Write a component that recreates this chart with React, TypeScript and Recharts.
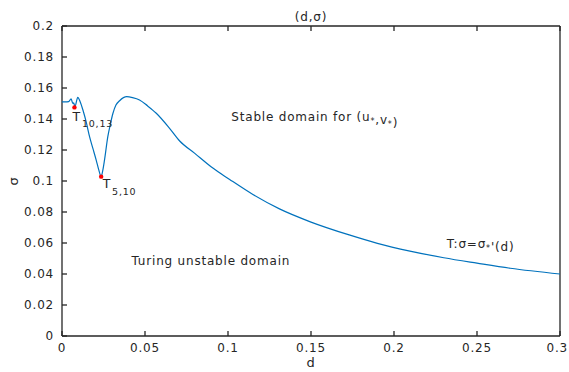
import React from 'react';
import { LineChart, Line, XAxis, YAxis, ReferenceDot, ReferenceLine } from 'recharts';

// curve T: sigma = sigma*'(d)
const dValues = [
  0, 0.002, 0.004, 0.0055, 0.0065, 0.007, 0.0078, 0.0095, 0.011, 0.0126,
  0.0146, 0.0166, 0.0186, 0.0206, 0.0222, 0.0236, 0.0246, 0.0256, 0.0276, 0.0292,
  0.0307, 0.0325, 0.0347, 0.039, 0.0425, 0.0467, 0.0515, 0.0568, 0.0648, 0.0709,
  0.08, 0.09, 0.101, 0.115, 0.131, 0.15, 0.173, 0.19, 0.2096, 0.23,
  0.25, 0.27, 0.3,
];
const sigmaValues = [
  0.151, 0.151, 0.1512, 0.153, 0.15, 0.1505, 0.148, 0.154, 0.151, 0.1458,
  0.138, 0.1286, 0.121, 0.1135, 0.107, 0.1028, 0.107, 0.1135, 0.1286, 0.137,
  0.1437, 0.149, 0.1518, 0.1544, 0.1538, 0.1523, 0.1485, 0.1437, 0.134, 0.1258,
  0.1178, 0.109, 0.101, 0.0913, 0.082, 0.0735, 0.0652, 0.0598, 0.0548, 0.0505,
  0.047, 0.0437, 0.04,
];

// marked Turing points
const pointD = [0.0075, 0.0236];
const pointSigma = [0.1475, 0.1028];
const pointSub = ['10,13', '5,10'];

const xTicks = [0, 0.05, 0.1, 0.15, 0.2, 0.25, 0.3];
const yTicks = [0, 0.02, 0.04, 0.06, 0.08, 0.1, 0.12, 0.14, 0.16, 0.18, 0.2];

const rows = dValues.map((d, i) => ({ d, sigma: sigmaValues[i] }));

const AXIS = '#262626';
const FONT = '"DejaVu Sans", sans-serif';
const txt = { fontFamily: FONT, fontSize: 12, fill: AXIS, letterSpacing: 0.8 };

// ticks point inwards, like the MATLAB figure
const BottomTick = (p: any) => {
  const last = p.payload.value === xTicks[xTicks.length - 1];
  return (
    <g>
      <line x1={p.x} y1={p.y} x2={p.x} y2={p.y - 5} stroke={AXIS} strokeWidth={1.3} />
      <text x={last ? 568 : p.x} y={p.y + 15.5} textAnchor={last ? 'end' : 'middle'} style={txt}>
        {String(p.payload.value)}
      </text>
    </g>
  );
};
const TopTick = (p: any) => <line x1={p.x} y1={p.y} x2={p.x} y2={p.y + 5} stroke={AXIS} strokeWidth={1.3} />;
const LeftTick = (p: any) => (
  <g>
    <line x1={p.x} y1={p.y} x2={p.x + 5} y2={p.y} stroke={AXIS} strokeWidth={1.3} />
    <text x={p.x - 8} y={p.y + 4.3} textAnchor="end" style={txt}>{String(p.payload.value)}</text>
  </g>
);
const RightTick = (p: any) => <line x1={p.x} y1={p.y} x2={p.x - 5} y2={p.y} stroke={AXIS} strokeWidth={1.3} />;

const centre = (vb: any) => ({ cx: vb.x + vb.width / 2, cy: vb.y + vb.height / 2 });

const TLabel = (sub: string, dx: number, dy: number, sdy: number) => (props: any) => {
  const { cx, cy } = centre(props.viewBox);
  return (
    <text x={cx + dx} y={cy + dy} style={{ ...txt, fontSize: 12.5 }}>
      T<tspan dx={1} dy={sdy} style={{ fontSize: 9.5 }}>{sub}</tspan>
    </text>
  );
};

const TextAt = (children: React.ReactNode) => (props: any) => {
  const { cx, cy } = centre(props.viewBox);
  return <text x={cx} y={cy + 4.3} style={txt}>{children}</text>;
};

const Sub = ({ c }: { c: string }) => (
  <>
    <tspan dy={3} style={{ fontSize: 8 }}>{c}</tspan>
    <tspan dy={-3}>{''}</tspan>
  </>
);

const labelOffsets = [
  { dx: -2, dy: 14, sdy: 6 },
  { dx: 1.5, dy: 11.5, sdy: 6.5 },
];

export default function App() {
  return (
    <div style={{ position: 'absolute', left: 0, top: 0, width: 569, height: 372, background: '#fff' }}>
      <LineChart width={569} height={372} data={rows} margin={{ top: 25, right: 8, bottom: 0, left: 0 }}>
        <XAxis
          xAxisId="b" type="number" dataKey="d" domain={[0, 0.3]} ticks={xTicks} interval={0}
          height={36} tickSize={0} tickMargin={0} tickLine={false} tick={<BottomTick />}
          axisLine={false}
          label={{
            position: 'insideBottom',
            content: (p: any) => (
              <text x={p.viewBox.x + p.viewBox.width / 2} y={p.viewBox.y + 31} textAnchor="middle" style={{ ...txt, fontSize: 13 }}>d</text>
            ),
          }}
        />
        <XAxis
          xAxisId="t" orientation="top" type="number" dataKey="d" domain={[0, 0.3]} ticks={xTicks} interval={0}
          height={1} tickSize={0} tickMargin={0} tickLine={false} tick={<TopTick />}
          axisLine={false}
        />
        <YAxis
          yAxisId="l" type="number" domain={[0, 0.2]} ticks={yTicks} interval={0}
          width={62} tickSize={0} tickMargin={0} tickLine={false} tick={<LeftTick />}
          axisLine={false}
          label={{
            position: 'insideLeft',
            content: (p: any) => {
              const y = p.viewBox.y + p.viewBox.height / 2;
              return (
                <text x={18} y={y} textAnchor="middle" transform={`rotate(-90 18 ${y})`} style={{ ...txt, fontSize: 13 }}>σ</text>
              );
            },
          }}
        />
        <YAxis
          yAxisId="r" orientation="right" type="number" domain={[0, 0.2]} ticks={yTicks} interval={0}
          width={1} tickSize={0} tickMargin={0} tickLine={false} tick={<RightTick />}
          axisLine={false}
        />
        {/* box round the plot */}
        <ReferenceLine xAxisId="b" yAxisId="l" x={0} stroke={AXIS} strokeWidth={1.3} ifOverflow="visible" />
        <ReferenceLine xAxisId="b" yAxisId="l" x={0.3} stroke={AXIS} strokeWidth={1.3} ifOverflow="visible" />
        <ReferenceLine xAxisId="b" yAxisId="l" y={0} stroke={AXIS} strokeWidth={1.3} ifOverflow="visible" />
        <ReferenceLine
          xAxisId="b" yAxisId="l" y={0.2} stroke={AXIS} strokeWidth={1.3} ifOverflow="visible"
          label={{
            position: 'top',
            content: (p: any) => (
              <text x={p.viewBox.x + p.viewBox.width / 2} y={p.viewBox.y - 5} textAnchor="middle" style={txt}>(d,σ)</text>
            ),
          }}
        />
        <Line
          xAxisId="b" yAxisId="l" type="monotone" dataKey="sigma" stroke="#0072BD"
          strokeWidth={1.2} dot={false} isAnimationActive={false}
        />
        {pointD.map((d, i) => (
          <ReferenceDot
            key={i} xAxisId="b" yAxisId="l" x={d} y={pointSigma[i]} r={2.2}
            fill="#ff0000" stroke="none"
            label={{ content: TLabel(pointSub[i], labelOffsets[i].dx, labelOffsets[i].dy, labelOffsets[i].sdy) }}
          />
        ))}
        <ReferenceDot
          xAxisId="b" yAxisId="l" x={0.102} y={0.1413} r={0} fill="none" stroke="none"
          label={{ content: TextAt(<>Stable domain for (u<Sub c="*" />,v<Sub c="*" />)</>) }}
        />
        <ReferenceDot
          xAxisId="b" yAxisId="l" x={0.0419} y={0.0484} r={0} fill="none" stroke="none"
          label={{ content: TextAt('Turing unstable domain') }}
        />
        <ReferenceDot
          xAxisId="b" yAxisId="l" x={0.2318} y={0.0598} r={0} fill="none" stroke="none"
          label={{ content: TextAt(<>T:σ=σ<Sub c="*" />'(d)</>) }}
        />
      </LineChart>
    </div>
  );
}
